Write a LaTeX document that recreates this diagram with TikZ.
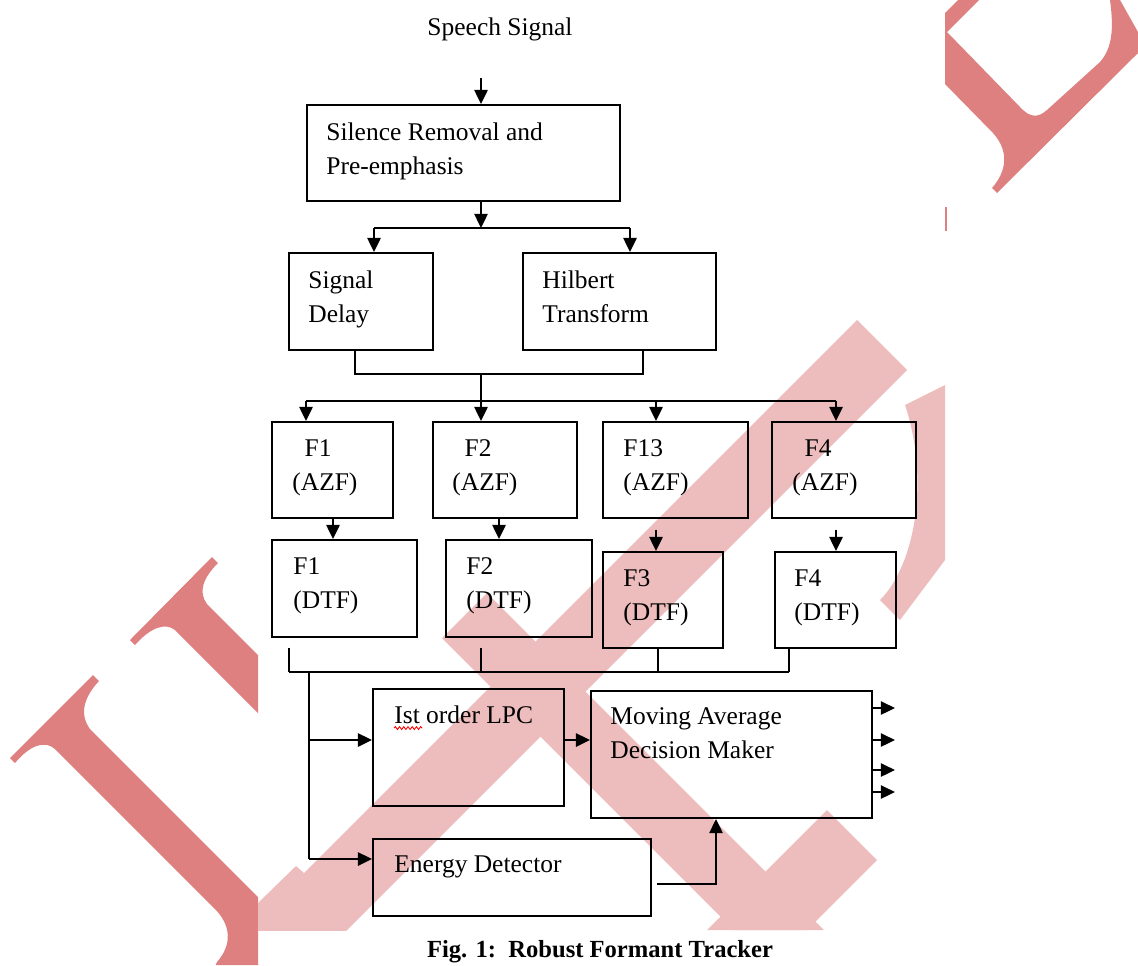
\documentclass[tikz,border=0pt]{standalone}
\usepackage{fontspec}
\setmainfont{Liberation Serif}
\usetikzlibrary{arrows.meta,fit,decorations.pathmorphing}
\definecolor{wmdark}{RGB}{222,128,128}
\definecolor{wmlight}{RGB}{237,188,188}
\tikzset{
  blk/.style={draw, line width=1.1pt, inner sep=0pt},
  lbl/.style={anchor=north west, inner sep=0pt, align=left, font=\fontsize{14.5}{19.5}\selectfont},
  ln/.style={line width=1.1pt},
  arr/.style={line width=1.1pt, -{Triangle[length=8pt,width=7.5pt]}}
}

\begin{document}
\begin{tikzpicture}[x=0.02cm, y=-0.02cm]
  \useasboundingbox (0,0) rectangle (1138,965);
  % watermark, outside the figure
  \begin{scope}
    \clip (0,0) rectangle (258,965) (945,0) rectangle (1138,965);
    \fill[wmdark] (10,758) -- (93,675) -- (99,681) .. controls (84,697) and (79,714) .. (90,729)
      -- (320,959) -- (320,1000) -- (200,1000) -- (217,962) .. controls (232,945) and (232,925) .. (213,907)
      -- (55,749) .. controls (45,740) and (30,745) .. (15,763) -- cycle;
    \fill[wmdark] (130,640) -- (212,557) -- (218,563) .. controls (203,578) and (198,592) .. (207,604)
      -- (320,717) -- (320,775) -- (175,630) .. controls (165,622) and (150,628) .. (135,645) -- cycle;
    \fill[wmdark] (945,13) -- (958,0) -- (979,0) -- (947,32) -- (1020,107) .. controls (1030,118) and (1038,118) .. (1047,110)
      -- (1100,62) .. controls (1112,48) and (1114,30) .. (1110,0) -- (1120,0) -- (1138,32) -- (1138,53)
      -- (997,193) -- (992,188) .. controls (1006,172) and (1010,152) .. (993,133) -- (945,84) -- cycle;
    \fill[wmdark] (944,207) rectangle (946.5,231);
  \end{scope}
  % watermark, seen through the figure
  \begin{scope}
    \clip (258,300) rectangle (945,930);
    \fill[wmlight] (857,320) -- (907,370) -- (258,1019) -- (208,969) -- cycle;
    \fill[wmlight] (442,638) -- (487,593) -- (824,930) -- (734,930) -- cycle;
    \fill[wmlight] (827,810) -- (877,860) -- (807,930) -- (707,930) -- cycle;
    \fill[wmlight] (258,903) -- (296,866) -- (304,873) -- (258,930) -- cycle;
    \fill[wmlight] (905,405) -- (945,385) -- (945,560) -- (900,620) -- (880,600) .. controls (915,565) and (930,480) .. cycle;
  \end{scope}

  % input
  \node[lbl, anchor=base] (spch) at (500,35) {Speech Signal};
  \node[blk, fit={(307,105) (620,201)}] (sr) {};
  \node[lbl] (sr-t) at ([shift={(20,18)}]sr.north west) {Silence Removal and\\Pre-emphasis};
  \node[blk, fit={(289,253) (433,350)}] (sd) {};
  \node[lbl] (sd-t) at ([shift={(20,18)}]sd.north west) {Signal\\Delay};
  \node[blk, fit={(523,253) (716,350)}] (ht) {};
  \node[lbl] (ht-t) at ([shift={(20,18)}]ht.north west) {Hilbert\\Transform};

  % filters
  \node[blk, fit={(272,422) (393,518)}] (a1) {};
  \node[lbl] (a1-t) at ([shift={(21,18)}]a1.north west) {\hspace*{7pt}F1\\(AZF)};
  \node[blk, fit={(433,422) (577,518)}] (a2) {};
  \node[lbl] (a2-t) at ([shift={(20,18)}]a2.north west) {\hspace*{7pt}F2\\(AZF)};
  \node[blk, fit={(603,422) (748,518)}] (a3) {};
  \node[lbl] (a3-t) at ([shift={(21,18)}]a3.north west) {F13\\(AZF)};
  \node[blk, fit={(772,422) (916,518)}] (a4) {};
  \node[lbl] (a4-t) at ([shift={(21,18)}]a4.north west) {\hspace*{7pt}F4\\(AZF)};

  \node[blk, fit={(272,540) (417,637)}] (d1) {};
  \node[lbl] (d1-t) at ([shift={(22,18)}]d1.north west) {F1\\(DTF)};
  \node[blk, fit={(446,540) (592,637)}] (d2) {};
  \node[lbl] (d2-t) at ([shift={(21,18)}]d2.north west) {F2\\(DTF)};
  \node[blk, fit={(603,552) (723,648)}] (d3) {};
  \node[lbl] (d3-t) at ([shift={(21,18)}]d3.north west) {F3\\(DTF)};
  \node[blk, fit={(775,552) (896,648)}] (d4) {};
  \node[lbl] (d4-t) at ([shift={(20,18)}]d4.north west) {F4\\(DTF)};

  % decision
  \node[blk, fit={(373,689) (564,806)}] (lpc) {};
  \node[lbl] (lpc-t) at ([shift={(22,17)}]lpc.north west) {Ist order LPC};
  \draw[red, line width=0.5pt, decorate, decoration={snake, amplitude=0.8pt, segment length=2.4pt}]
    ([yshift=-2.5pt]lpc-t.south west) -- ++(28,0);
  \node[blk, fit={(591,691) (872,818)}] (ma) {};
  \node[lbl] (ma-t) at ([shift={(20,17)}]ma.north west) {Moving Average\\Decision Maker};
  \node[blk, fit={(373,839) (651,916)}] (en) {};
  \node[lbl] (en-t) at ([shift={(22,17)}]en.north west) {Energy Detector};

  \node[anchor=base, inner sep=0pt, font=\bfseries\fontsize{14}{17}\selectfont] (cap) at (600,957) {Fig. 1:\ \ Robust Formant Tracker};

  % top arrows
  \coordinate (s0) at (481,78);
  \coordinate (s1) at (481,228);
  \coordinate (sl) at (374,228);
  \coordinate (sR) at (630,228);
  \draw[arr] (s0) -- (s0 |- sr.north);
  \draw[arr] (s0 |- sr.south) -- (s1);
  \draw[ln] (sl) -- (sR);
  \draw[arr] (sl) -- (sl |- sd.north);
  \draw[arr] (sR) -- (sR |- ht.north);

  % merge and fan out
  \coordinate (m1) at (355,374);
  \coordinate (m0) at (481,374);
  \coordinate (m2) at (643,374);
  \draw[ln] (m1 |- sd.south) -- (m1) -- (m2) -- (m2 |- ht.south);
  \draw[arr] (m0) -- (m0 |- a2.north);
  \coordinate (b1) at (306,401);
  \coordinate (b3) at (656,401);
  \coordinate (b4) at (836,401);
  \draw[ln] (b1) -- (b4);
  \draw[arr] (b1) -- (b1 |- a1.north);
  \draw[arr] (b3) -- (b3 |- a3.north);
  \draw[arr] (b4) -- (b4 |- a4.north);

  % AZF to DTF
  \coordinate (c1) at (333,0);
  \coordinate (c2) at (499,0);
  \draw[arr] (c1 |- a1.south) -- (c1 |- d1.north);
  \draw[arr] (c2 |- a2.south) -- (c2 |- d2.north);
  \draw[arr, shorten <=6pt] (b3 |- a3.south) -- (b3 |- d3.north);
  \draw[arr, shorten <=6pt] (b4 |- a4.south) -- (b4 |- d4.north);

  % collect
  \coordinate (k1) at (289,672);
  \coordinate (k2) at (481,672);
  \coordinate (k3) at (658,672);
  \coordinate (k4) at (789,672);
  \draw[ln] (k1) -- (k4);
  \draw[ln, shorten <=5.5pt] (k1 |- d1.south) -- (k1);
  \draw[ln, shorten <=5.5pt] (k2 |- d2.south) -- (k2);
  \draw[ln] (k3 |- d3.south) -- (k3);
  \draw[ln] (k4 |- d4.south) -- (k4);

  % feed
  \coordinate (v0) at (309,672);
  \coordinate (v1) at (309,740);
  \coordinate (v2) at (309,859);
  \draw[ln] (v0) -- (v2);
  \draw[arr] (v1) -- (v1 -| lpc.west);
  \draw[arr] (v2) -- (v2 -| en.west);
  \draw[arr] (v1 -| lpc.east) -- (v1 -| ma.west);
  \coordinate (e1) at (716,884);
  \draw[arr, shorten <=3pt] (e1 -| en.east) -- (e1) -- (e1 |- ma.south);

  % outputs
  \foreach \yy in {708,740,770,792} {
    \coordinate (oy) at (0,\yy);
    \draw[arr] (ma.east |- oy) -- ++(22,0);
  }
\end{tikzpicture}
\end{document}
